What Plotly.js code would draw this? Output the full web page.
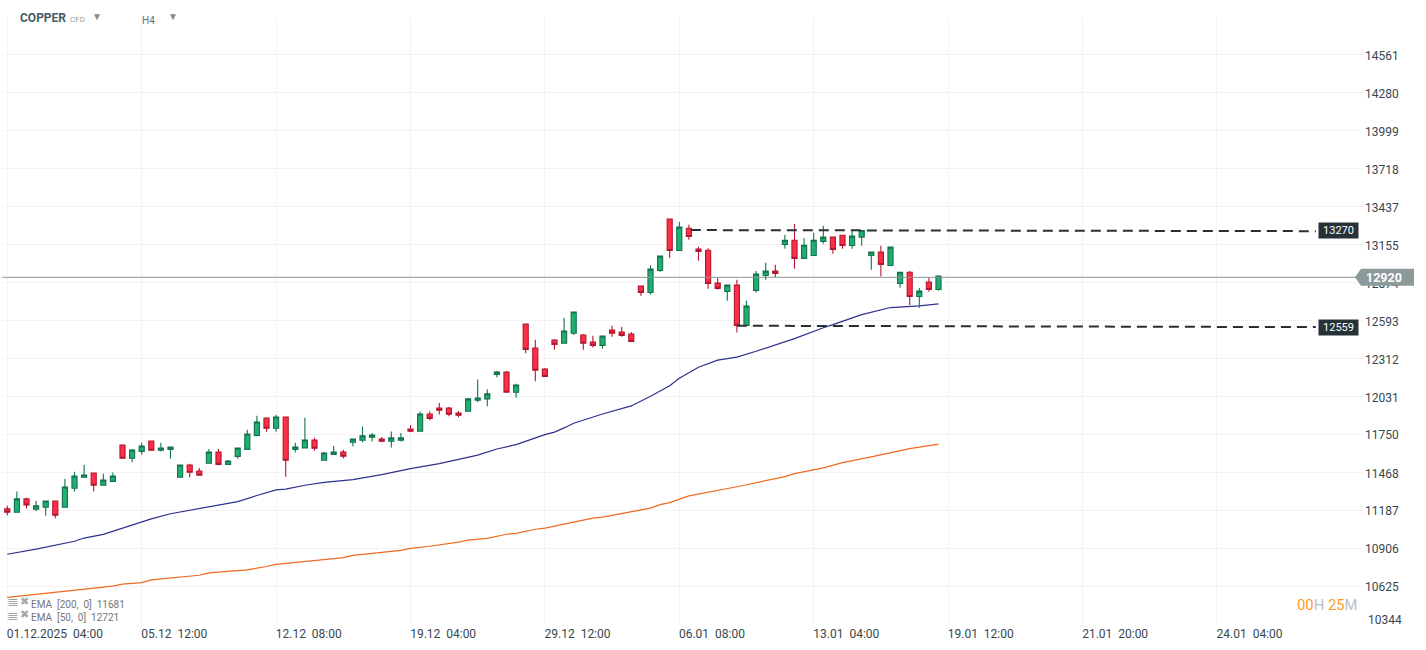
<!DOCTYPE html>
<html>
<head>
<meta charset="utf-8">
<script src="https://cdn.plot.ly/plotly-3.0.1.min.js"></script>
<style>html,body{margin:0;padding:0;background:#fff;overflow:hidden}</style>
</head>
<body>
<div id="chart" style="width:1426px;height:650px"></div>
<script>
const opens = [
11197,11172,11271,11194,11209,11256,11209,11350,11431,11463,
11372,11401,11670,11572,11623,11700,11631,11638,11431,11522,
11478,11535,11619,11527,11586,11638,11742,11870,11794,11878,
11638,11648,11707,11557,11601,11619,11691,11706,11728,11715,
11698,11706,11789,11772,11900,11945,11945,11908,11920,12002,
12012,12194,12211,12061,12567,12389,12234,12448,12424,12498,
12485,12434,12409,12522,12508,12493,12848,12801,12964,13344,
13112,13277,13122,13114,12870,12808,12855,12557,12816,12927,
12959,13156,13188,13053,13075,13179,13211,13225,13149,13211,
13075,13100,13001,12868,12951,12771,12877,12823];
const highs = [
11221,11325,11280,11256,11256,11256,11419,11473,11525,11463,
11458,11466,11670,11641,11688,11700,11688,11656,11522,11532,
11500,11641,11641,11559,11648,11784,11888,11870,11895,11878,
11688,11873,11725,11619,11663,11636,11715,11807,11760,11730,
11770,11760,11819,11918,11918,11982,11952,11923,12019,12155,
12081,12221,12219,12125,12567,12451,12241,12456,12614,12656,
12493,12480,12478,12554,12545,12508,12848,13003,13070,13344,
13324,13302,13139,13129,12910,12855,12895,12739,12959,13021,
13006,13228,13309,13203,13243,13295,13211,13225,13265,13260,
13100,13146,13137,12951,12959,12833,12910,12922];
const lows = [
11150,11172,11199,11179,11147,11127,11209,11325,11431,11325,
11372,11401,11572,11542,11599,11631,11623,11569,11431,11429,
11446,11535,11520,11527,11569,11638,11735,11769,11769,11436,
11614,11648,11628,11557,11601,11570,11659,11691,11696,11691,
11651,11696,11765,11772,11854,11896,11883,11876,11920,11987,
11957,12170,12061,12021,12350,12142,12179,12377,12424,12488,
12377,12392,12384,12473,12473,12438,12776,12786,12954,13058,
13112,13191,13035,12828,12821,12739,12505,12557,12798,12895,
12914,13124,12976,13053,13075,13161,13087,13124,13124,13146,
12969,12919,13001,12835,12707,12687,12806,12813];
const closes = [
11172,11271,11226,11219,11256,11150,11359,11441,11448,11372,
11411,11441,11572,11633,11663,11631,11648,11656,11522,11468,
11446,11619,11527,11552,11648,11752,11841,11794,11878,11557,
11656,11707,11646,11611,11619,11587,11715,11738,11745,11698,
11723,11723,11772,11900,11868,11928,11898,11891,12012,12019,
12049,12211,12061,12115,12379,12224,12179,12416,12515,12656,
12424,12409,12478,12498,12483,12438,12801,12974,13070,13112,
13285,13216,13105,12868,12831,12855,12557,12700,12937,12959,
12942,13188,13053,13151,13188,13211,13119,13149,13218,13260,
13100,13008,13137,12951,12771,12811,12823,12922];

const ema50Index = [0,3,7,8,10,13,14,15,17,19,20,24,26,28,29,31,33,36,39,42,45,49,51,53,56,57,58,59,62,65,67,69,70,72,74,76,78,80,82,85,86,89,92,95,97];
const ema50Values = [10861,10899,10957,10981,11008,11076,11102,11123,11161,11186,11196,11251,11296,11338,11344,11372,11394,11414,11451,11495,11532,11595,11641,11673,11747,11766,11797,11832,11900,11960,12031,12110,12165,12247,12299,12322,12365,12413,12459,12539,12562,12637,12689,12702,12716];
const ema200Index = [0,3,8,11,12,14,15,20,21,25,27,28,34,35,36,41,42,44,47,48,50,52,53,55,56,61,62,67,68,69,71,76,81,82,85,87,90,94,96,97];
const ema200Values = [10542,10564,10602,10624,10639,10651,10671,10705,10723,10745,10770,10786,10829,10836,10853,10889,10905,10920,10951,10965,10978,11009,11016,11046,11055,11129,11136,11203,11229,11244,11293,11361,11436,11458,11501,11540,11582,11644,11666,11675];

const resistanceX = [71.2,136.3];
const resistanceY = [13263,13255];
const supportX = [76,136.3];
const supportY = [12554,12544];
const lastPrice = 12913;

const xTickIndex = [0,14,28,42,56,70,84,98,112,126];
const xTickText = ['01.12.2025\u00A0\u00A004:00\u00A0','05.12\u00A0\u00A012:00','12.12\u00A0\u00A008:00','19.12\u00A0\u00A004:00','29.12\u00A0\u00A012:00','06.01\u00A0\u00A008:00','13.01\u00A0\u00A004:00','19.01\u00A0\u00A012:00','21.01\u00A0\u00A020:00','24.01\u00A0\u00A004:00'];
const yTickValues = [14842,14561,14280,13999,13718,13437,13155,12874,12593,12312,12031,11750,11468,11187,10906,10625,10344];
const yTickText = ['','14561','14280','13999','13718','13437','13155','12874','12593','12312','12031','11750','11468','11187','10906','10625',''];

const W = 1426, H = 650, L = 2, R = 63, T = 17, B = 25.5;
const px = x => (x - L) / (W - L - R);
const py = y => 1 - (y - T) / (H - T - B);
const pad = t => t.length < 14 ? t + '\u00A0'.repeat(11) : t;
const idx = opens.map((_, i) => i);

function note(x, y, text, size, color, extra) {
  return Object.assign({xref:'paper', yref:'paper', x:px(x), y:py(y), text:text, showarrow:false,
    xanchor:'left', yanchor:'middle', font:{family:'Roboto', size:size, color:color}, borderpad:0}, extra || {});
}
function priceTag(value, text) {
  return {xref:'paper', yref:'y', x:px(1338.5), y:value, text:text, showarrow:false, xanchor:'center', yanchor:'middle',
    width:39, height:15, bgcolor:'#263238', borderpad:0, font:{family:'Roboto', size:11, color:'#ffffff'}};
}

const traces = [
  {type:'candlestick', x:idx, open:opens, high:highs, low:lows, close:closes, whiskerwidth:0,
   increasing:{line:{color:'#12734c', width:1.1}, fillcolor:'#20ae72'},
   decreasing:{line:{color:'#b3172f', width:1.1}, fillcolor:'#fb2f47'}, hoverinfo:'skip', showlegend:false},
  {type:'scatter', mode:'lines', x:ema50Index, y:ema50Values, line:{color:'#2d318c', width:1.2}, hoverinfo:'skip', showlegend:false},
  {type:'scatter', mode:'lines', x:ema200Index, y:ema200Values, line:{color:'#ee6a1f', width:1.2}, hoverinfo:'skip', showlegend:false},
  {type:'scatter', mode:'lines', x:resistanceX, y:resistanceY, line:{color:'#263238', width:2, dash:'10px,6px'}, hoverinfo:'skip', showlegend:false},
  {type:'scatter', mode:'lines', x:supportX, y:supportY, line:{color:'#263238', width:2, dash:'10px,6px'}, hoverinfo:'skip', showlegend:false}
];

const layout = {
  width:W, height:H, autosize:false, showlegend:false,
  margin:{l:L, r:R, t:T, b:B, pad:0},
  paper_bgcolor:'#ffffff', plot_bgcolor:'#ffffff',
  font:{family:'Roboto', size:12, color:'#37474f'},
  hovermode:false,
  boxgap:0.24,
  xaxis:{type:'linear', range:[-0.552,141.219], tickmode:'array', tickvals:xTickIndex, ticktext:xTickText.map(pad),
    tickangle:0, ticklabelshift:49, ticklabelstandoff:1, showgrid:true, gridcolor:'#f3f3f3', gridwidth:1, zeroline:false,
    showline:false, ticks:'', ticklen:0,
    tickfont:{family:'Roboto', size:12, color:'#37474f'}, rangeslider:{visible:false}, automargin:false, fixedrange:true},
  yaxis:{type:'linear', side:'right', range:[10344,14842], tickmode:'array', tickvals:yTickValues, ticktext:yTickText,
    showgrid:true, gridcolor:'#f3f3f3', gridwidth:1, zeroline:false, showline:false,
    ticks:'', ticklen:0, ticklabelshift:1, ticklabelstandoff:1,
    tickfont:{family:'Roboto', size:12, color:'#37474f'}, automargin:false, fixedrange:true},
  shapes:[
    {type:'line', layer:'above', xref:'paper', yref:'y', x0:0, x1:px(1356), y0:lastPrice, y1:lastPrice, line:{color:'#8a9797', width:1}},
    {type:'path', layer:'above', xref:'paper', yref:'y', xsizemode:'pixel', ysizemode:'pixel', xanchor:1, yanchor:lastPrice,
     path:'M-8,0 L-2,8.5 L51,8.5 L51,-8.5 L-2,-8.5 Z', fillcolor:'#8d9a9b', line:{width:0}}
  ],
  annotations:[
    note(19,18.5,'<b>COPPER</b>',12,'#455a64'),
    note(69,19.5,'CFD',8,'#9e9e9e'),
    note(91,16,'▼',10,'#8a8a8a'),
    note(141,21,'H4',10,'#607080'),
    note(167,16.5,'▼',10,'#8a8a8a'),
    note(6,601,'≣',14,'#a3a3a3'),
    note(18.5,602,'✖',10.5,'#a8a8a8'),
    note(30,604.5,'EMA\u00A0 [200,\u00A0 0]\u00A0 11681',10,'#757575'),
    note(6,615,'≣',14,'#a3a3a3'),
    note(18.5,615,'✖',10.5,'#a8a8a8'),
    note(30,618,'EMA\u00A0 [50,\u00A0 0]\u00A0 12721',10,'#757575'),
    note(1296,605,'<span style="color:#ff9a1f">00</span><span style="color:#b9c2c6">H</span> <span style="color:#ff9a1f">25</span><span style="color:#b9c2c6">M</span>',14.8,'#ff9a1f'),
    note(1366.5,620.5,'10344',12,'#37474f'),
    priceTag(13258,'13270'),
    priceTag(12544,'12559'),
    {xref:'paper', yref:'y', x:px(1365), y:lastPrice, text:'<b>12920</b>', showarrow:false, xanchor:'left', yanchor:'middle',
     font:{family:'Roboto', size:12.5, color:'#ffffff'}, borderpad:0}
  ]
};

Plotly.newPlot('chart', traces, layout, {displayModeBar:false, staticPlot:true});
</script>
</body>
</html>
